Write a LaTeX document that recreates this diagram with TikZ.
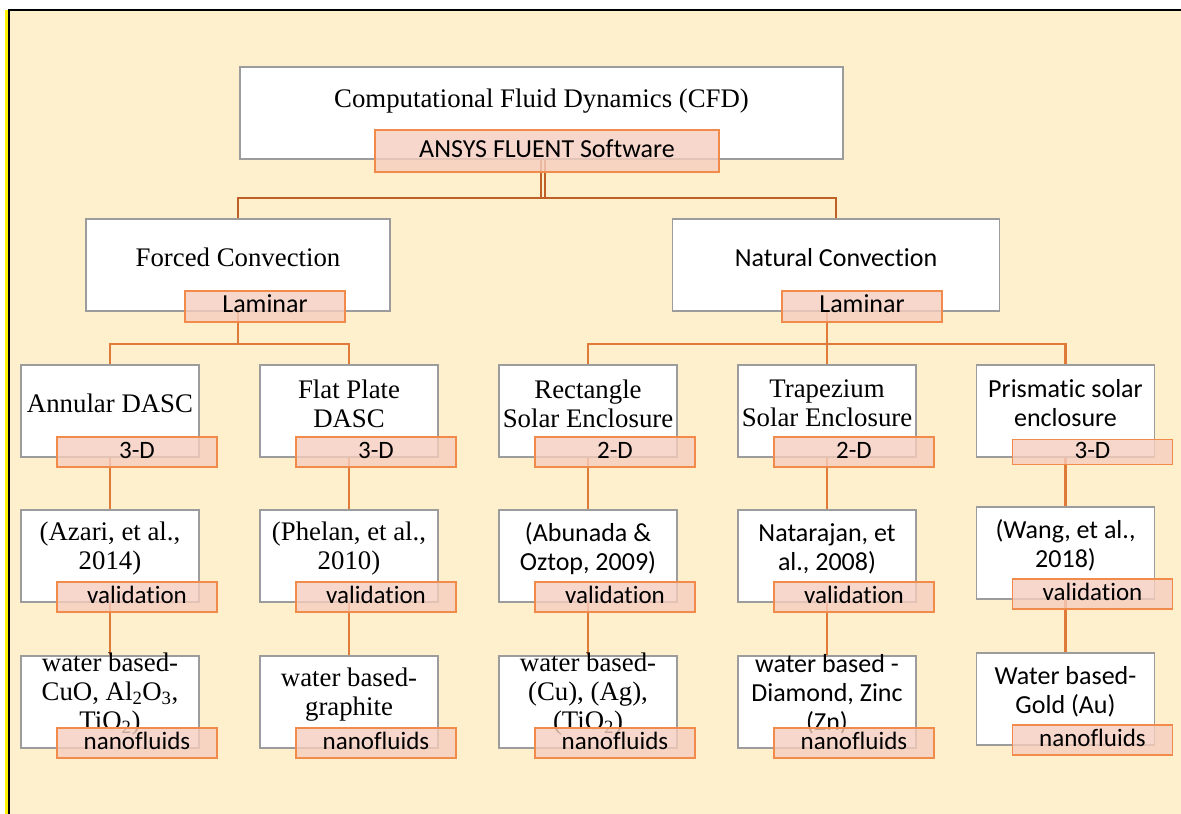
\documentclass[tikz,border=0pt]{standalone}
\usepackage{fontspec}
\newfontfamily\cfdserif[Ligatures=NoCommon]{Liberation Serif}
\newfontfamily\cfdsans[Ligatures=NoCommon]{Carlito}
\definecolor{cream}{HTML}{FFF0CD}
\definecolor{boxgray}{HTML}{9C9C9C}
\definecolor{tagline}{HTML}{F18B4C}
\definecolor{tagfill}{HTML}{F6CDBE}
\definecolor{linkorange}{HTML}{E07A38}
\definecolor{linkbrown}{HTML}{BF6026}
\pgfdeclarelayer{back}
\pgfdeclarelayer{links}
\pgfsetlayers{back,links,main}
% one study card: white box, its text, and the tag overlapping its lower edge
% #1 name, #2 x centre, #3 top edge, #4 text style, #5 text, #6 tag text, #7 extra tag options
\newcommand\cellunit[7]{%
  \node[box] (#1) at (#2,#3+46) {};
  \node[#4] (#1t) at (#2,#3+38.5) {#5};
  \node[tag,#7] (#1g) at (#2+27,#3+87) {#6};
}
\begin{document}
\begin{tikzpicture}[x=1pt,y=-1pt,
  box/.style={draw=boxgray, line width=1.6pt, fill=white, inner sep=0pt,
    minimum width=178pt, minimum height=92pt},
  tag/.style={draw=tagline, line width=1.5pt, fill=tagfill, fill opacity=0.8,
    text opacity=1, inner sep=0pt, minimum width=160pt, minimum height=30pt,
    text height=17pt, text depth=5pt, font=\cfdsans\fontsize{25}{30}\selectfont},
  rmtext/.style={align=center, inner sep=0pt, font=\cfdserif\fontsize{26.8}{29}\selectfont},
  sftext/.style={align=center, inner sep=0pt, font=\cfdsans\fontsize{26}{29}\selectfont},
  link/.style={draw=linkorange, line width=2.2pt},
  trunk/.style={draw=linkbrown, line width=2.8pt}]
\useasboundingbox (0,0) rectangle (1181,814);

% page frame
\begin{pgfonlayer}{back}
  \fill[white] (0,0) rectangle (1181,814);
  \fill[cream] (9,10) rectangle (1181,814);
  \fill[yellow] (5,10) rectangle (7.5,814);
  \draw[black, line width=2pt] (9,814) -- (9,10) -- (1181,10);
\end{pgfonlayer}

% root
\node[box, minimum width=603pt] (cfd) at (541.5,113) {};
\node[rmtext] (cfdt) at (541.5,101) {Computational Fluid Dynamics (CFD)};
\node[tag, minimum width=344pt, minimum height=42pt,
  font=\cfdsans\fontsize{26}{30}\selectfont] (ansys) at (547,151) {ANSYS FLUENT Software};

% convection branches
\node[box, minimum width=304pt] (forced) at (238,265) {};
\node[rmtext] (forcedt) at (238,257.5) {Forced Convection};
\node[tag, minimum height=31pt, font=\cfdsans\fontsize{26}{30}\selectfont] (forcedg) at (265,306.5) {Laminar};

\node[box, minimum width=327pt] (natural) at (836,265) {};
\node[sftext] (naturalt) at (836,257.5) {Natural Convection};
\node[tag, minimum height=31pt, font=\cfdsans\fontsize{26}{30}\selectfont] (naturalg) at (862,306.5) {Laminar};

% geometries
\cellunit{a3}{110}{365}{rmtext}{Annular DASC}{3-D}{}
\cellunit{b3}{349}{365}{rmtext}{Flat Plate\\DASC}{3-D}{}
\cellunit{c3}{588}{365}{rmtext}{Rectangle\\Solar Enclosure}{2-D}{}
\cellunit{d3}{827}{365}{rmtext}{Trapezium\\Solar Enclosure}{2-D}{}
\cellunit{e3}{1065.5}{365}{sftext}{Prismatic solar\\enclosure}{3-D}{minimum height=25pt}

% validation studies
\cellunit{a4}{110}{510}{rmtext}{(Azari, et al.,\\2014)}{validation}{}
\cellunit{b4}{349}{510}{rmtext}{(Phelan, et al.,\\2010)}{validation}{}
\cellunit{c4}{588}{510}{sftext}{(Abunada \&\\Oztop, 2009)}{validation}{}
\cellunit{d4}{827}{510}{sftext}{Natarajan, et\\al., 2008)}{validation}{}
\cellunit{e4}{1065.5}{507}{sftext}{(Wang, et al.,\\2018)}{validation}{}

% working fluids
\cellunit{a5}{110}{656}{rmtext}{water based-\\CuO, Al\textsubscript{2}O\textsubscript{3},\\TiO\textsubscript{2})}{nanofluids}{}
\cellunit{b5}{349}{656}{rmtext}{water based-\\graphite}{nanofluids}{}
\cellunit{c5}{588}{656}{rmtext}{water based-\\(Cu), (Ag),\\(TiO\textsubscript{2})}{nanofluids}{}
\cellunit{d5}{827}{656}{sftext}{water based -\\Diamond, Zinc\\(Zn)}{nanofluids}{}
\cellunit{e5}{1065.5}{653}{sftext}{Water based-\\Gold (Au)}{nanofluids}{}

% connectors
\begin{pgfonlayer}{links}
  \coordinate (hub) at (543,198);
  \draw[trunk, double=cream, double distance=1.4pt, line width=2pt] (cfd.center -| hub) -- (hub);
  \draw[trunk] (forced.north) |- (hub) -| (natural.north);

  \coordinate (fork1) at (238,344);
  \draw[link] (forced.center) -- (fork1);
  \draw[link] (a3.north) |- (fork1) -| (b3.north);

  \coordinate (fork2) at (827,344);
  \draw[link] (fork2 |- natural.center) -- (fork2);
  \draw[link] (c3.north) |- (fork2) -| (e3.north);
  \draw[link] (d3.north) -- (fork2);

  \draw[link] (a3) -- (a4) -- (a5);
  \draw[link] (b3) -- (b4) -- (b5);
  \draw[link] (c3) -- (c4) -- (c5);
  \draw[link] (d3) -- (d4) -- (d5);
  \draw[link] (e3) -- (e4) -- (e5);
\end{pgfonlayer}
\end{tikzpicture}
\end{document}
